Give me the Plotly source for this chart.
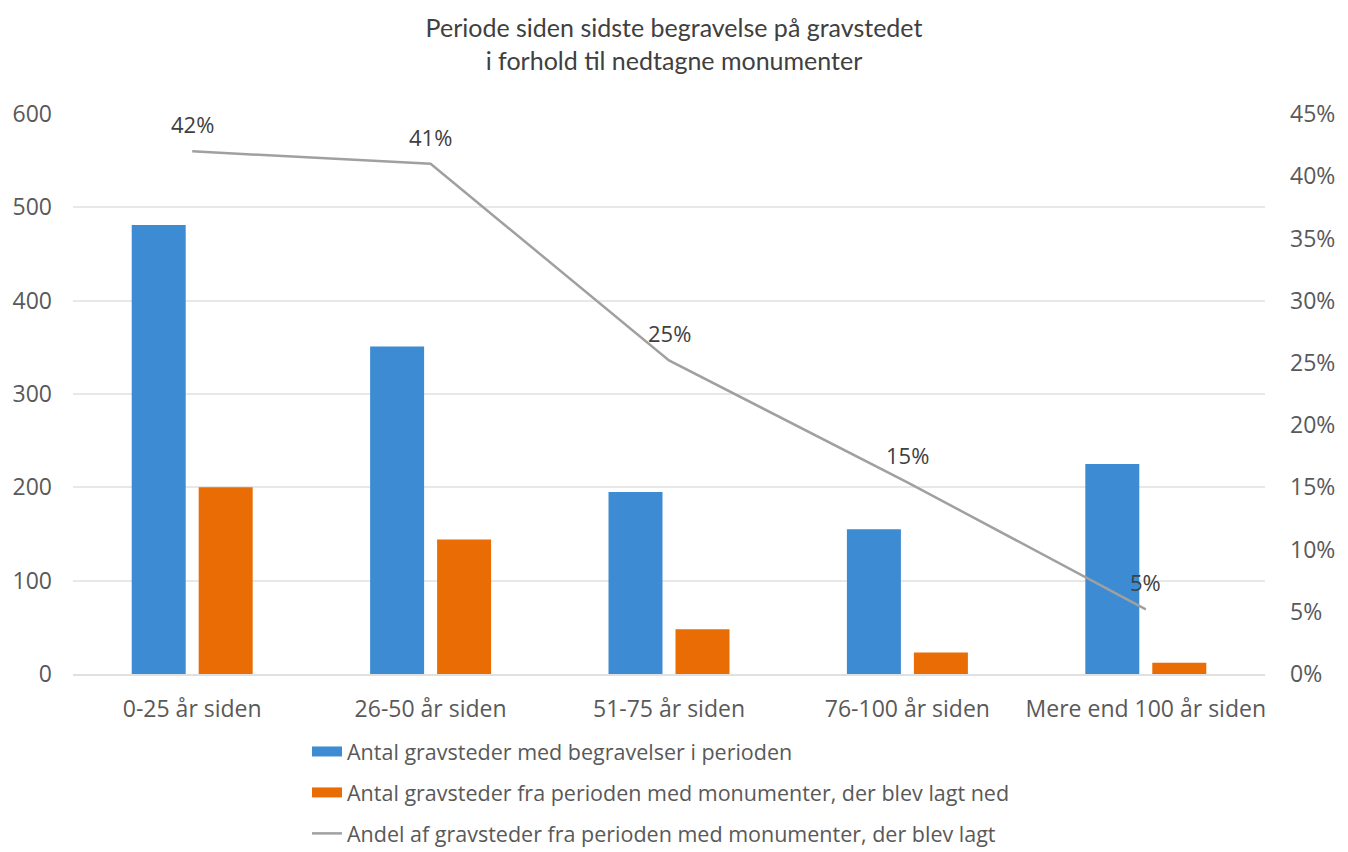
import plotly.graph_objects as go

categories = ["0-25 år siden", "26-50 år siden", "51-75 år siden", "76-100 år siden", "Mere end 100 år siden"]
begravelser = [481, 351, 195, 155, 225]
nedlagt = [200, 144, 48, 23, 12]
andel = [0.42, 0.41, 0.252, 0.154, 0.052]
andel_labels = ["42%", "41%", "25%", "15%", "5%"]

name_blue = "Antal gravsteder med begravelser i perioden"
name_orange = "Antal gravsteder fra perioden med monumenter, der blev lagt ned"
name_line = "Andel af gravsteder fra perioden med monumenter, der blev lagt"

blue = "#3D8BD2"
orange = "#E96C04"
grey = "#A0A0A0"
txt = "#595959"
font_main = "Open Sans"

fig = go.Figure()
fig.add_trace(go.Bar(x=categories, y=begravelser, name=name_blue, showlegend=False,
                     marker=dict(color=blue, line=dict(width=0))))
fig.add_trace(go.Bar(x=categories, y=nedlagt, name=name_orange, showlegend=False,
                     marker=dict(color=orange, line=dict(width=0))))
fig.add_trace(go.Scatter(x=categories, y=andel, name=name_line, mode="lines", showlegend=False,
                         line=dict(color=grey, width=2.5), yaxis="y2"))

# legend-only entries (wide swatches like the original)
fig.add_trace(go.Scatter(x=[None], y=[None], mode="lines", name=name_blue,
                         line=dict(color=blue, width=10), legendgroup="a"))
fig.add_trace(go.Scatter(x=[None], y=[None], mode="lines", name=name_orange,
                         line=dict(color=orange, width=10), legendgroup="b"))
fig.add_trace(go.Scatter(x=[None], y=[None], mode="lines", name=name_line,
                         line=dict(color=grey, width=2.5), legendgroup="c"))

for c, v, t in zip(categories, andel, andel_labels):
    fig.add_annotation(x=c, y=v, yref="y2", text=t, showarrow=False, yshift=27,
                       font=dict(family=font_main, size=22, color="#404040"))

fig.update_layout(
    width=1348, height=852,
    margin=dict(l=73, r=83, t=114, b=178),
    paper_bgcolor="white", plot_bgcolor="white",
    title=dict(text="Periode siden sidste begravelse på gravstedet<br>i forhold til nedtagne monumenter",
               x=0.5, xanchor="center", y=1 - 37 / 852, yanchor="top",
               font=dict(family="Lato", size=25, color="#404040")),
    barmode="group", bargap=0.438, bargroupgap=0.194,
    font=dict(family=font_main, size=22, color=txt),
    xaxis=dict(showgrid=False, showline=True, linecolor="#E0E0E0", linewidth=1.5,
               ticks="", tickfont=dict(size=23, color=txt), automargin=False, tickangle=0,
               ticklabelstandoff=14),
    yaxis=dict(range=[0, 600], dtick=100, showgrid=True, gridcolor="#E8E8E8", gridwidth=1.5,
               zeroline=False, ticks="", ticklabelstandoff=20, automargin=False,
               tickfont=dict(size=23, color=txt)),
    yaxis2=dict(range=[0, 0.45], dtick=0.05, tickformat=".0%", overlaying="y", side="right",
                showgrid=False, zeroline=False, ticks="", ticklabelstandoff=24, automargin=False,
                tickfont=dict(size=23, color=txt)),
    showlegend=True,
    legend=dict(orientation="v", xref="paper", x=(307 - 73) / 1192, xanchor="left",
                yref="container", y=(852 - 731) / 852, yanchor="top",
                font=dict(size=21.5, color=txt), tracegroupgap=10, bgcolor="rgba(0,0,0,0)"),
)

fig.write_html("out.html", config={"displayModeBar": False},
               post_script="document.body.style.margin='0';")
